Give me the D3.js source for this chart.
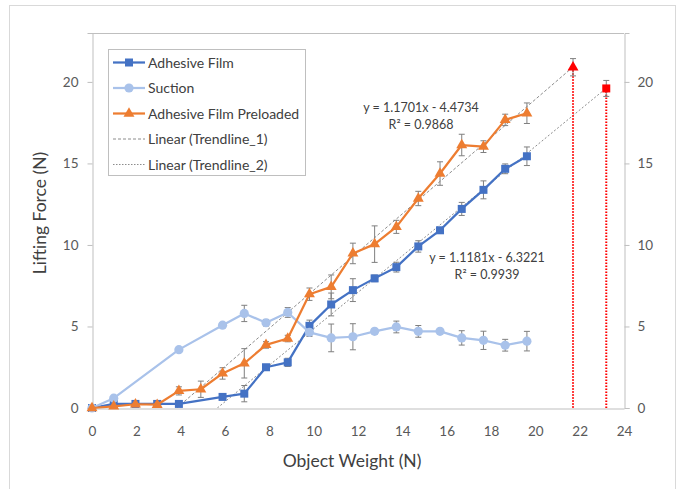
<!DOCTYPE html>
<html><head><meta charset="utf-8">
<script src="https://cdn.jsdelivr.net/npm/d3@7"></script>
<style>
html,body{margin:0;padding:0;background:#fff;}
svg{display:block;font-family:Lato, "Open Sans", sans-serif;}
</style></head>
<body><svg id="c" width="680" height="489"></svg>
<script>
// ---- data ----
const weights = [0, 0.98, 1.96, 2.94, 3.92, 4.91, 5.89, 6.87, 7.85, 8.83, 9.81, 10.79, 11.77, 12.75, 13.73, 14.72, 15.70, 16.68, 17.66, 18.64, 19.62];
const adhesive = [0, 0.25, 0.25, 0.25, 0.25, null, 0.68, 0.88, 2.5, 2.8, 5.04, 6.35, 7.23, 7.95, 8.64, 9.91, 10.9, 12.21, 13.38, 14.67, 15.44];
const adhesiveErr = [0, 0.1, 0.05, 0.05, 0.1, null, 0.15, 0.5, 0.15, 0.25, 0.35, 0.7, 0.7, 0.2, 0.3, 0.35, 0.15, 0.4, 0.55, 0.3, 0.57];
const suction = [0, 0.6, null, null, 3.58, null, 5.08, 5.8, 5.23, 5.86, 4.64, 4.3, 4.37, 4.7, 4.97, 4.7, 4.7, 4.3, 4.15, 3.85, 4.1];
const suctionErr = [0, 0.1, null, null, 0.1, null, 0.15, 0.5, 0.2, 0.3, 0.25, 0.85, 0.8, 0.15, 0.36, 0.36, 0.15, 0.44, 0.56, 0.36, 0.6];
const preloaded = [0, 0.1, 0.23, 0.2, 1.05, 1.15, 2.12, 2.74, 3.87, 4.26, 6.98, 7.43, 9.48, 10.05, 11.11, 12.85, 14.38, 16.13, 16.03, 17.67, 18.08];
const preloadedErr = [0, 0.05, 0.05, 0.05, 0.25, 0.5, 0.35, 0.9, 0.2, 0.2, 0.38, 0.73, 0.63, 1.12, 0.4, 0.44, 0.72, 0.66, 0.36, 0.35, 0.63];
const trend1 = {slope: 1.1701, intercept: -4.4734, r2: 0.9868, xEnd: 21.7};
const trend2 = {slope: 1.1181, intercept: -6.3221, r2: 0.9939, xEnd: 23.2};
const redPoints = [{x: 21.7, y: 20.9, err: 0.53, shape: "triangle"}, {x: 23.2, y: 19.6, err: 0.49, shape: "square"}];
const xTicks = [0, 2, 4, 6, 8, 10, 12, 14, 16, 18, 20, 22, 24];
const yTicks = [0, 5, 10, 15, 20];
const legendLabels = ["Adhesive Film", "Suction", "Adhesive Film Preloaded", "Linear (Trendline_1)", "Linear (Trendline_2)"];

// ---- styles ----
const C_BLUE = "#4472C4", C_LIGHT = "#A9C2EA", C_ORANGE = "#ED7D31", C_RED = "#FF0000";
const C_AXIS = "#BFBFBF", C_TEXT = "#595959", C_TITLE = "#404040", C_ERR = "#7F7F7F", C_TREND = "#8C8C8C";

const svg = d3.select("#c");
const x = d3.scaleLinear().domain([0, 24]).range([92, 624]);
const y = d3.scaleLinear().domain([0, 23]).range([408, 33]);

// outer chart border
svg.append("rect").attr("x", 9.5).attr("y", 5.5).attr("width", 666).attr("height", 500)
  .attr("fill", "#fff").attr("stroke", "#D9D9D9").attr("stroke-width", 1);

// plot area border (top)
svg.append("line").attr("x1", x(0)).attr("x2", x(24)).attr("y1", y(23) + 0.5).attr("y2", y(23) + 0.5)
  .attr("stroke", C_AXIS);

// axes
const axL = d3.axisLeft(y).tickValues(yTicks).tickSize(5).tickPadding(9);
const axR = d3.axisRight(y).tickValues(yTicks).tickSize(5).tickPadding(8);
const axB = d3.axisBottom(x).tickValues(xTicks).tickSize(0).tickPadding(18);
function styleAxis(g) {
  g.selectAll("path,line").attr("stroke", C_AXIS);
  g.selectAll("text").attr("fill", C_TEXT).style("font-size", "13.5px").style("font-family", "Lato, sans-serif");
}
svg.append("g").attr("transform", `translate(${x(0) + 0.5},0)`).call(axL).call(styleAxis);
svg.append("g").attr("transform", `translate(${x(24) + 0.5},0)`).call(axR).call(styleAxis);
svg.append("g").attr("transform", `translate(0,${y(0) + 0.5})`).call(axB).call(styleAxis);
svg.selectAll(".domain").attr("stroke", C_AXIS);

// axis titles
svg.append("text").attr("x", 352).attr("y", 467).attr("text-anchor", "middle")
  .attr("fill", C_TITLE).style("font-size", "17.5px").text("Object Weight (N)");
svg.append("text").attr("transform", "translate(46,213) rotate(-90)").attr("text-anchor", "middle")
  .attr("fill", C_TITLE).style("font-size", "17.5px").text("Lifting Force (N)");

// clip for plot
svg.append("clipPath").attr("id", "plot").append("rect")
  .attr("x", x(0)).attr("y", y(23)).attr("width", x(24) - x(0)).attr("height", y(0) - y(23));
const plot = svg.append("g").attr("clip-path", "url(#plot)");

// trendlines
function trendLine(t, dash) {
  const x0 = -t.intercept / t.slope;
  plot.append("line")
    .attr("x1", x(x0)).attr("y1", y(0))
    .attr("x2", x(t.xEnd)).attr("y2", y(t.slope * t.xEnd + t.intercept))
    .attr("stroke", C_TREND).attr("stroke-width", 1).attr("stroke-dasharray", dash);
}
trendLine(trend1, "3,2");
trendLine(trend2, "2,2");

// red drop lines
redPoints.forEach(p => {
  svg.append("line").attr("x1", x(p.x)).attr("x2", x(p.x)).attr("y1", y(p.y)).attr("y2", y(0))
    .attr("stroke", C_RED).attr("stroke-width", 2).attr("stroke-dasharray", "1.5,1.5");
});

// data helpers
function pts(vals, errs) {
  return weights.map((w, i) => ({x: w, y: vals[i], e: errs[i]})).filter(d => d.y != null);
}
const sAdh = pts(adhesive, adhesiveErr);
const sSuc = pts(suction, suctionErr);
const sPre = pts(preloaded, preloadedErr);

function errorBars(data) {
  const g = svg.append("g");
  data.filter(d => d.e > 0).forEach(d => {
    g.append("line").attr("x1", x(d.x)).attr("x2", x(d.x)).attr("y1", y(d.y - d.e)).attr("y2", y(d.y + d.e))
      .attr("stroke", C_ERR).attr("stroke-width", 1);
    [d.y - d.e, d.y + d.e].forEach(v => {
      g.append("line").attr("x1", x(d.x) - 3).attr("x2", x(d.x) + 3).attr("y1", y(v)).attr("y2", y(v))
        .attr("stroke", C_ERR).attr("stroke-width", 1);
    });
  });
}
const line = d3.line().x(d => x(d.x)).y(d => y(d.y));

function series(data, color, shape) {
  svg.append("path").datum(data).attr("d", line).attr("fill", "none")
    .attr("stroke", color).attr("stroke-width", 2.25).attr("stroke-linejoin", "round");
  const g = svg.append("g");
  data.forEach(d => drawMarker(g, x(d.x), y(d.y), color, shape));
}
function drawMarker(g, cx, cy, color, shape) {
  if (shape === "square") {
    g.append("rect").attr("x", cx - 4).attr("y", cy - 4).attr("width", 8).attr("height", 8).attr("fill", color);
  } else if (shape === "circle") {
    g.append("circle").attr("cx", cx).attr("cy", cy).attr("r", 4.6).attr("fill", color);
  } else {
    g.append("path").attr("d", d3.symbol(d3.symbolTriangle, 52)()).attr("transform", `translate(${cx},${cy})`).attr("fill", color);
  }
}

errorBars(sAdh); errorBars(sSuc); errorBars(sPre);
series(sAdh, C_BLUE, "square");
series(sSuc, C_LIGHT, "circle");
series(sPre, C_ORANGE, "triangle");

// red points
redPoints.forEach(p => {
  errorBars([{x: p.x, y: p.y, e: p.err}]);
  drawMarker(svg, x(p.x), y(p.y), C_RED, p.shape);
});

// equations
function eq(t, cx, cy) {
  const s = t.intercept < 0 ? " - " : " + ";
  svg.append("text").attr("x", cx).attr("y", cy).attr("text-anchor", "middle").attr("fill", C_TITLE)
    .style("font-size", "12.5px").text(`y = ${t.slope.toFixed(4)}x${s}${Math.abs(t.intercept).toFixed(4)}`);
  svg.append("text").attr("x", cx).attr("y", cy + 17).attr("text-anchor", "middle").attr("fill", C_TITLE)
    .style("font-size", "12.5px").text(`R² = ${t.r2.toFixed(4)}`);
}
eq(trend1, 421, 112);
eq(trend2, 487, 262);

// legend
const lg = svg.append("g");
lg.append("rect").attr("x", 108.5).attr("y", 49.5).attr("width", 197).attr("height", 126)
  .attr("fill", "#fff").attr("stroke", "#BFBFBF");
const legendStyles = [
  {color: C_BLUE, shape: "square", dash: null, w: 2.25},
  {color: C_LIGHT, shape: "circle", dash: null, w: 2.25},
  {color: C_ORANGE, shape: "triangle", dash: null, w: 2.25},
  {color: C_TREND, shape: null, dash: "3,2", w: 1},
  {color: C_TREND, shape: null, dash: "1.5,1.5", w: 1}
];
legendLabels.forEach((lab, i) => {
  const cy = 62.5 + i * 25.5;
  const st = legendStyles[i];
  lg.append("line").attr("x1", 113).attr("x2", 145).attr("y1", cy).attr("y2", cy)
    .attr("stroke", st.color).attr("stroke-width", st.w).attr("stroke-dasharray", st.dash);
  if (st.shape) drawMarker(lg, 129, cy, st.color, st.shape);
  lg.append("text").attr("x", 148).attr("y", cy + 5).attr("fill", C_TITLE).style("font-size", "14px").text(lab);
});
</script></body></html>
